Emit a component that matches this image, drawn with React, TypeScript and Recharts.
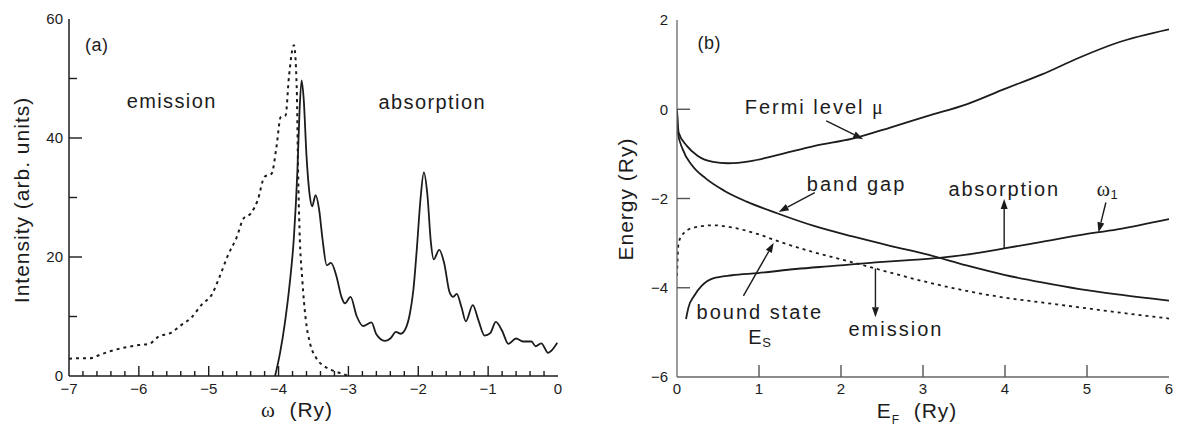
import React from 'react';
import { LineChart, Line, XAxis, YAxis, ReferenceDot, ReferenceLine } from 'recharts';

const FONT = '"Liberation Sans", Arial, Helvetica, sans-serif';
const SERIF = '"Liberation Serif", "DejaVu Serif", serif';
const INK = '#1c1c1c';
const GRAY = '#555';

// ---------- Panel (a) ----------
const emissionOmega = [-7.0, -6.85, -6.7, -6.55, -6.4, -6.2, -6.0, -5.85, -5.72, -5.55, -5.4, -5.25, -5.1, -4.95, -4.85, -4.72, -4.6, -4.5, -4.4, -4.3, -4.2, -4.1, -4.03, -3.97, -3.9, -3.85, -3.78, -3.74, -3.72, -3.7, -3.66, -3.61, -3.55, -3.46, -3.34, -3.24, -3.12, -3.0];
const emissionIntensity = [2.9, 3.0, 3.0, 3.6, 4.2, 4.8, 5.2, 5.4, 6.6, 7.2, 8.5, 9.8, 12.0, 13.8, 16.5, 20.4, 23.3, 26.5, 27.3, 29.5, 33.5, 34.0, 38.5, 43.5, 43.8, 50.5, 55.6, 48.5, 34.0, 24.5, 16.1, 9.4, 5.5, 3.0, 1.6, 1.0, 0.5, 0.0];

const absorptionOmega = [-4.05, -3.98, -3.91, -3.84, -3.78, -3.73, -3.7, -3.67, -3.64, -3.6, -3.55, -3.52, -3.47, -3.42, -3.37, -3.31, -3.25, -3.17, -3.1, -3.05, -2.97, -2.88, -2.79, -2.67, -2.6, -2.48, -2.4, -2.32, -2.25, -2.18, -2.12, -2.07, -2.02, -1.97, -1.92, -1.87, -1.82, -1.78, -1.7, -1.63, -1.55, -1.5, -1.45, -1.38, -1.32, -1.22, -1.14, -1.05, -0.97, -0.89, -0.8, -0.71, -0.6, -0.5, -0.38, -0.32, -0.24, -0.14, -0.1, -0.01];
const absorptionIntensity = [0.0, 3.8, 8.9, 15.6, 23.4, 34.6, 44.5, 49.7, 46.5, 37.0, 30.0, 28.5, 30.4, 28.0, 22.9, 18.6, 19.0, 16.7, 13.3, 12.2, 13.3, 10.0, 8.4, 9.0, 7.0, 5.9, 6.3, 7.4, 7.1, 8.0, 10.5, 14.5, 21.5, 29.5, 34.2, 30.5, 22.5, 19.6, 21.2, 19.0, 14.0, 13.3, 13.8, 11.5, 9.2, 11.9, 9.4, 6.8, 7.2, 9.1, 7.6, 5.4, 6.3, 5.8, 5.8, 5.0, 5.5, 3.9, 4.2, 5.6];

// axis ticks (labels) and inner tick marks
const aXLabelTicks = [-7, -6, -5, -4, -3, -2, -1, 0];
const aYLabelTicks = [0, 20, 40, 60];
const aXMajorMarks = [-6, -5, -4, -3, -2, -1];
const aXMinorMarks = [-6.8, -6.6, -6.4, -6.2, -5.8, -5.6, -5.4, -5.2, -4.8, -4.6, -4.4, -4.2, -3.8, -3.6, -3.4, -3.2, -2.8, -2.6, -2.4, -2.2, -1.8, -1.6, -1.4, -1.2, -0.8, -0.6, -0.4, -0.2];
const aYMajorMarks = [20, 40];
const aYMinorMarks = [10, 30, 50];

// ---------- Panel (b) ----------
const fermiEF = [0, 0.02, 0.12, 0.25, 0.44, 0.62, 0.9, 1.22, 1.68, 2.14, 2.6, 3.06, 3.53, 3.99, 4.45, 4.91, 5.37, 6.0];
const fermiMu = [0, -0.52, -0.82, -1.04, -1.18, -1.21, -1.16, -1.03, -0.82, -0.66, -0.41, -0.15, 0.11, 0.45, 0.78, 1.16, 1.49, 1.79];

const gapEF = [0, 0.01, 0.07, 0.18, 0.35, 0.58, 0.85, 1.22, 1.68, 2.14, 2.6, 3.06, 3.53, 3.99, 4.45, 4.91, 5.37, 6.0];
const gapE = [0, -0.52, -0.9, -1.25, -1.55, -1.83, -2.07, -2.33, -2.62, -2.85, -3.06, -3.26, -3.5, -3.71, -3.88, -4.03, -4.15, -4.29];

const omega1EF = [0.11, 0.14, 0.21, 0.3, 0.44, 0.67, 0.99, 1.45, 1.91, 2.42, 2.83, 3.2, 3.53, 3.99, 4.45, 4.91, 5.37, 6.0];
const omega1E = [-4.7, -4.44, -4.18, -3.96, -3.79, -3.72, -3.67, -3.58, -3.51, -3.43, -3.38, -3.33, -3.26, -3.12, -2.97, -2.82, -2.69, -2.46];

const boundEF = [0, 0.02, 0.09, 0.21, 0.44, 0.67, 0.99, 1.22, 1.68, 2.14, 2.6, 3.06, 3.53, 3.99, 4.45, 4.91, 5.37, 6.0];
const boundE = [-3.73, -2.99, -2.76, -2.65, -2.6, -2.65, -2.8, -2.95, -3.21, -3.43, -3.66, -3.88, -4.07, -4.22, -4.33, -4.44, -4.55, -4.69];

const bXLabelTicks = [0, 1, 2, 3, 4, 5, 6];
const bYLabelTicks = [-6, -4, -2, 0, 2];
const bXMarks = [1, 2, 3, 4, 5];
const bYMarks = [-4, -2, 0];

const zip = (xs: number[], ys: number[]) => xs.map((x, i) => ({ x, y: ys[i] }));

const emissionData = zip(emissionOmega, emissionIntensity);
const absorptionData = zip(absorptionOmega, absorptionIntensity);
const fermiData = zip(fermiEF, fermiMu);
const gapData = zip(gapEF, gapE);
const omega1Data = zip(omega1EF, omega1E);
const boundData = zip(boundEF, boundE);

const fmt = (v: number) => (v < 0 ? '\u2212' + Math.abs(v) : String(v));
const tickText = { fill: INK, fontSize: 15, fontFamily: FONT };

// plot sizes in px (used to place tick-mark anchors inside the plot)
const A_W = 489;
const A_H = 357;
const B_W = 492;
const B_H = 357;

// tick mark drawn from an interior anchor point back to the axis
const downMark = (len: number, color: string) => (p: any) => (
  <path d={`M${Number(p.cx)},${Number(p.cy)}L${Number(p.cx)},${Number(p.cy) + len}`} stroke={color} strokeWidth={1.4} fill="none" />
);
const leftMark = (len: number, color: string) => (p: any) => (
  <path d={`M${Number(p.cx)},${Number(p.cy)}L${Number(p.cx) - len},${Number(p.cy)}`} stroke={color} strokeWidth={1.4} fill="none" />
);

const textShape = (content: React.ReactNode, opts: { anchor?: string; size?: number; spacing?: number; family?: string } = {}) => (props: any) => (
  <text
    x={props.cx}
    y={props.cy}
    textAnchor={opts.anchor || 'middle'}
    dominantBaseline="central"
    fontSize={opts.size || 20}
    fontFamily={opts.family || FONT}
    letterSpacing={opts.spacing ?? 1.4}
    fill={INK}
  >
    {content}
  </text>
);

const arrowShape = (props: any) => {
  const x1 = Number(props.x1);
  const y1 = Number(props.y1);
  const x2 = Number(props.x2);
  const y2 = Number(props.y2);
  const ang = Math.atan2(y2 - y1, x2 - x1);
  const L = 10;
  const W = 3.5;
  const bx = x2 - L * Math.cos(ang);
  const by = y2 - L * Math.sin(ang);
  const px = -Math.sin(ang) * W;
  const py = Math.cos(ang) * W;
  return (
    <g>
      <line x1={x1} y1={y1} x2={bx} y2={by} stroke={INK} strokeWidth={1.4} />
      <polygon points={`${x2},${y2} ${bx + px},${by + py} ${bx - px},${by - py}`} fill={INK} />
    </g>
  );
};

const title: React.CSSProperties = {
  position: 'absolute',
  fontFamily: FONT,
  fontSize: 21,
  letterSpacing: 1,
  color: INK,
  whiteSpace: 'nowrap',
  transform: 'translate(-50%, -50%)',
};

function PanelA() {
  const frame = { stroke: INK, strokeWidth: 1.5 };
  const pxY = 60 / A_H;
  const pxX = 7 / A_W;
  return (
    <LineChart width={590} height={428} margin={{ top: 19, right: 32, bottom: 22, left: 29 }}>
      <XAxis
        xAxisId="a"
        dataKey="x"
        type="number"
        domain={[-7, 0]}
        allowDataOverflow
        ticks={aXLabelTicks}
        interval={0}
        height={30}
        tickSize={0}
        tickMargin={7}
        axisLine={frame}
        tickLine={false}
        tick={tickText}
        tickFormatter={fmt}
      />
      <XAxis xAxisId="top" orientation="top" type="number" domain={[-7, 0]} height={0} tick={false} tickLine={false} axisLine={frame} />
      <YAxis
        yAxisId="a"
        type="number"
        domain={[0, 60]}
        allowDataOverflow
        ticks={aYLabelTicks}
        interval={0}
        width={40}
        tickSize={0}
        tickMargin={6}
        axisLine={frame}
        tickLine={false}
        tick={tickText}
        tickFormatter={fmt}
      />
      <YAxis yAxisId="right" orientation="right" type="number" domain={[0, 60]} width={0} tick={false} tickLine={false} axisLine={frame} />
      {aXMajorMarks.map((v) => (
        <ReferenceDot key={'xM' + v} xAxisId="a" yAxisId="a" x={v} y={10 * pxY} r={0} shape={downMark(10, INK)} />
      ))}
      {aXMinorMarks.map((v) => (
        <ReferenceDot key={'xm' + v} xAxisId="a" yAxisId="a" x={v} y={5 * pxY} r={0} shape={downMark(5, INK)} />
      ))}
      {aYMajorMarks.map((v) => (
        <ReferenceDot key={'yM' + v} xAxisId="a" yAxisId="a" x={-7 + 13 * pxX} y={v} r={0} shape={leftMark(13, INK)} />
      ))}
      {aYMinorMarks.map((v) => (
        <ReferenceDot key={'ym' + v} xAxisId="a" yAxisId="a" x={-7 + 8 * pxX} y={v} r={0} shape={leftMark(8, INK)} />
      ))}
      <Line xAxisId="a" yAxisId="a" data={emissionData} dataKey="y" type="monotone" dot={false} stroke={INK} strokeWidth={2} strokeDasharray="3 4" isAnimationActive={false} />
      <Line xAxisId="a" yAxisId="a" data={absorptionData} dataKey="y" type="monotone" dot={false} stroke={INK} strokeWidth={1.8} isAnimationActive={false} />
      <ReferenceDot xAxisId="a" yAxisId="a" x={-6.77} y={55.6} r={0} shape={textShape('(a)', { anchor: 'start', size: 18, spacing: 0.5 })} />
      <ReferenceDot xAxisId="a" yAxisId="a" x={-5.53} y={46.2} r={0} shape={textShape('emission')} />
      <ReferenceDot xAxisId="a" yAxisId="a" x={-1.8} y={46.1} r={0} shape={textShape('absorption')} />
    </LineChart>
  );
}

function PanelB() {
  const frame = { stroke: '#666', strokeWidth: 1.3 };
  const pxY = 8 / B_H;
  const pxX = 6 / B_W;
  return (
    <LineChart width={589} height={428} margin={{ top: 20, right: 10, bottom: 21, left: 47 }}>
      <XAxis
        xAxisId="b"
        dataKey="x"
        type="number"
        domain={[0, 6]}
        allowDataOverflow
        ticks={bXLabelTicks}
        interval={0}
        height={30}
        tickSize={0}
        tickMargin={6}
        axisLine={frame}
        tickLine={false}
        tick={tickText}
        tickFormatter={fmt}
      />
      <XAxis xAxisId="top" orientation="top" type="number" domain={[0, 6]} height={0} tick={false} tickLine={false} axisLine={frame} />
      <YAxis
        yAxisId="l"
        type="number"
        domain={[-6, 2]}
        allowDataOverflow
        ticks={bYLabelTicks}
        interval={0}
        width={40}
        tickSize={0}
        tickMargin={9}
        axisLine={frame}
        tickLine={false}
        tick={tickText}
        tickFormatter={fmt}
      />
      <YAxis yAxisId="right" orientation="right" type="number" domain={[-6, 2]} width={0} tick={false} tickLine={false} axisLine={frame} />
      {bXMarks.map((v) => (
        <ReferenceDot key={'bx' + v} xAxisId="b" yAxisId="l" x={v} y={-6 + 12 * pxY} r={0} shape={downMark(12, GRAY)} />
      ))}
      {bYMarks.map((v) => (
        <ReferenceDot key={'by' + v} xAxisId="b" yAxisId="l" x={13 * pxX} y={v} r={0} shape={leftMark(13, GRAY)} />
      ))}
      <Line xAxisId="b" yAxisId="l" data={fermiData} dataKey="y" type="monotone" dot={false} stroke={INK} strokeWidth={1.8} isAnimationActive={false} />
      <Line xAxisId="b" yAxisId="l" data={gapData} dataKey="y" type="monotone" dot={false} stroke={INK} strokeWidth={1.8} isAnimationActive={false} />
      <Line xAxisId="b" yAxisId="l" data={omega1Data} dataKey="y" type="monotone" dot={false} stroke={INK} strokeWidth={1.8} isAnimationActive={false} />
      <Line xAxisId="b" yAxisId="l" data={boundData} dataKey="y" type="monotone" dot={false} stroke={INK} strokeWidth={1.8} strokeDasharray="3 4" isAnimationActive={false} />

      <ReferenceLine xAxisId="b" yAxisId="l" segment={[{ x: 1.82, y: -0.26 }, { x: 2.27, y: -0.67 }]} shape={arrowShape} />
      <ReferenceLine xAxisId="b" yAxisId="l" segment={[{ x: 1.68, y: -1.87 }, { x: 1.24, y: -2.3 }]} shape={arrowShape} />
      <ReferenceLine xAxisId="b" yAxisId="l" segment={[{ x: 3.99, y: -3.12 }, { x: 3.99, y: -2.01 }]} shape={arrowShape} />
      <ReferenceLine xAxisId="b" yAxisId="l" segment={[{ x: 5.23, y: -2.09 }, { x: 5.14, y: -2.76 }]} shape={arrowShape} />
      <ReferenceLine xAxisId="b" yAxisId="l" segment={[{ x: 0.81, y: -4.18 }, { x: 1.18, y: -2.99 }]} shape={arrowShape} />
      <ReferenceLine xAxisId="b" yAxisId="l" segment={[{ x: 2.42, y: -3.57 }, { x: 2.42, y: -4.66 }]} shape={arrowShape} />

      <ReferenceDot xAxisId="b" yAxisId="l" x={0.25} y={1.49} r={0} shape={textShape('(b)', { anchor: 'start', size: 18, spacing: 0.5 })} />
      <ReferenceDot
        xAxisId="b"
        yAxisId="l"
        x={1.68}
        y={0.05}
        r={0}
        shape={textShape(
          <>
            Fermi level <tspan fontFamily={SERIF}>μ</tspan>
          </>,
          { spacing: 2 }
        )}
      />
      <ReferenceDot xAxisId="b" yAxisId="l" x={2.19} y={-1.68} r={0} shape={textShape('band gap', { spacing: 2 })} />
      <ReferenceDot xAxisId="b" yAxisId="l" x={3.99} y={-1.78} r={0} shape={textShape('absorption', { spacing: 1.8 })} />
      <ReferenceDot
        xAxisId="b"
        yAxisId="l"
        x={5.25}
        y={-1.79}
        r={0}
        shape={textShape(
          <>
            <tspan fontFamily={SERIF}>ω</tspan>
            <tspan fontSize={13} dy={5}>1</tspan>
          </>,
          { spacing: 0.5 }
        )}
      />
      <ReferenceDot xAxisId="b" yAxisId="l" x={1.01} y={-4.55} r={0} shape={textShape('bound state', { spacing: 2 })} />
      <ReferenceDot
        xAxisId="b"
        yAxisId="l"
        x={1.01}
        y={-5.11}
        r={0}
        shape={textShape(
          <>
            E<tspan fontSize={13} dy={5}>S</tspan>
          </>,
          { spacing: 0.5 }
        )}
      />
      <ReferenceDot xAxisId="b" yAxisId="l" x={2.67} y={-4.93} r={0} shape={textShape('emission', { spacing: 2 })} />
    </LineChart>
  );
}

export default function App() {
  return (
    <div style={{ position: 'absolute', left: 0, top: 0, width: 1179, height: 428, background: '#fff', overflow: 'hidden' }}>
      <div style={{ position: 'absolute', left: 0, top: 0 }}>
        <PanelA />
      </div>
      <div style={{ position: 'absolute', left: 590, top: 0 }}>
        <PanelB />
      </div>
      <div style={{ ...title, left: 22, top: 200, transform: 'translate(-50%, -50%) rotate(-90deg)' }}>
        Intensity (arb. units)
      </div>
      <div style={{ ...title, left: 297, top: 410 }}>
        <span style={{ fontFamily: SERIF }}>ω</span>&nbsp;&nbsp;(Ry)
      </div>
      <div style={{ ...title, left: 626, top: 199, transform: 'translate(-50%, -50%) rotate(-90deg)' }}>
        Energy (Ry)
      </div>
      <div style={{ ...title, left: 917, top: 413 }}>
        E<sub style={{ fontSize: 12 }}>F</sub>&nbsp;&nbsp;(Ry)
      </div>
    </div>
  );
}
